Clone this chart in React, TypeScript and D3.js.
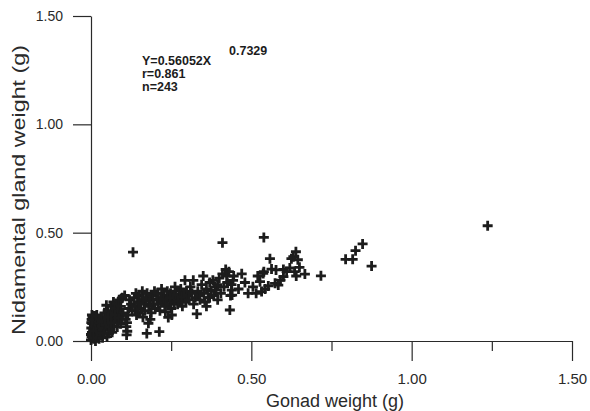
import { useEffect, useRef } from "react";
import * as d3 from "d3";

// axis ticks
const xMajorTicks = [0, 0.5, 1.0, 1.5];
const xMinorTicks = [0.25, 0.75, 1.25];
const yTicks = [0, 0.5, 1.0, 1.5];

// regression annotation
const equationBase = "Y=0.56052X";
const equationExponent = "0.7329";
const statLines = ["r=0.861", "n=243"];

// [gonad weight (g), nidamental gland weight (g)]
const samples: [number, number][] = [
  // x < 0.03
  [0.000, 0.005], [0.002, 0.02], [0.003, 0.04], [0.001, 0.06], [0.004, 0.08], [0.002, 0.10],
  [0.005, 0.11], [0.006, 0.03], [0.008, 0.01], [0.007, 0.05], [0.009, 0.07], [0.010, 0.09],
  [0.011, 0.02], [0.012, 0.04], [0.013, 0.06], [0.014, 0.00], [0.015, 0.08], [0.016, 0.03],
  [0.017, 0.10], [0.018, 0.05], [0.019, 0.02], [0.020, 0.07], [0.021, 0.04], [0.022, 0.09],
  [0.003, 0.12], [0.000, 0.03], [0.001, 0.085], [0.009, 0.115], [0.005, 0.015], [0.012, 0.105],
  [0.018, 0.12], [0.024, 0.06], [0.025, 0.01], [0.026, 0.085],
  [0.004, 0.095], [0.008, 0.045], [0.015, 0.115], [0.020, 0.015], [0.027, 0.035], [0.028, 0.10],
  // 0.03 - 0.12
  [0.030, 0.03], [0.032, 0.07], [0.035, 0.11], [0.037, 0.05], [0.040, 0.09], [0.042, 0.13],
  [0.045, 0.06], [0.047, 0.10], [0.050, 0.02], [0.052, 0.14], [0.055, 0.08], [0.058, 0.12],
  [0.060, 0.05], [0.062, 0.16], [0.065, 0.10], [0.068, 0.13], [0.070, 0.18], [0.072, 0.07],
  [0.075, 0.15], [0.078, 0.11], [0.080, 0.17], [0.083, 0.09], [0.085, 0.14], [0.088, 0.19],
  [0.090, 0.12], [0.093, 0.16], [0.095, 0.10], [0.098, 0.20], [0.100, 0.13], [0.036, 0.015],
  [0.056, 0.035], [0.066, 0.04], [0.048, 0.165],
  [0.033, 0.09], [0.040, 0.035], [0.044, 0.075], [0.053, 0.11], [0.057, 0.065], [0.063, 0.085],
  [0.074, 0.12], [0.082, 0.065], [0.087, 0.105], [0.092, 0.08],
  [0.111, 0.028], [0.113, 0.045], [0.110, 0.066], [0.112, 0.085], [0.108, 0.10], [0.096, 0.197],
  [0.105, 0.21], [0.120, 0.19], [0.118, 0.15], [0.115, 0.12],
  // 0.12 - 0.2
  [0.125, 0.17], [0.128, 0.14], [0.131, 0.41], [0.135, 0.20], [0.138, 0.16], [0.140, 0.22],
  [0.145, 0.18], [0.148, 0.13], [0.150, 0.21], [0.155, 0.15], [0.158, 0.19], [0.160, 0.23],
  [0.165, 0.17], [0.168, 0.14], [0.170, 0.20], [0.174, 0.035], [0.179, 0.082], [0.175, 0.22],
  [0.180, 0.16], [0.185, 0.19], [0.188, 0.13], [0.190, 0.21], [0.195, 0.17], [0.198, 0.23],
  [0.213, 0.043], [0.200, 0.15], [0.142, 0.12], [0.162, 0.11], [0.185, 0.10],
  [0.150, 0.175], [0.172, 0.185], [0.192, 0.195],
  // 0.2 - 0.3
  [0.205, 0.19], [0.208, 0.22], [0.210, 0.17], [0.215, 0.14], [0.218, 0.20], [0.220, 0.24],
  [0.225, 0.18], [0.228, 0.21], [0.230, 0.16], [0.235, 0.19], [0.238, 0.23], [0.241, 0.109],
  [0.240, 0.20], [0.245, 0.17], [0.248, 0.22], [0.250, 0.15], [0.255, 0.19], [0.258, 0.21],
  [0.260, 0.18], [0.265, 0.23], [0.268, 0.20], [0.270, 0.17], [0.275, 0.21], [0.278, 0.19],
  [0.280, 0.24], [0.285, 0.16], [0.288, 0.22], [0.290, 0.20], [0.293, 0.28], [0.295, 0.18],
  [0.298, 0.23], [0.262, 0.25], [0.232, 0.135], [0.252, 0.12],
  [0.226, 0.195], [0.246, 0.20], [0.272, 0.185], [0.282, 0.205],
  // 0.3 - 0.45
  [0.300, 0.21], [0.305, 0.19], [0.310, 0.25], [0.315, 0.22], [0.319, 0.28], [0.320, 0.17],
  [0.325, 0.20], [0.330, 0.125], [0.333, 0.23], [0.338, 0.21], [0.340, 0.19], [0.345, 0.26],
  [0.350, 0.30], [0.352, 0.22], [0.355, 0.18], [0.360, 0.24], [0.365, 0.20], [0.370, 0.27],
  [0.375, 0.23], [0.380, 0.28], [0.383, 0.21], [0.387, 0.25], [0.390, 0.235], [0.395, 0.26],
  [0.400, 0.29], [0.405, 0.22], [0.410, 0.454], [0.410, 0.31], [0.415, 0.25], [0.420, 0.33],
  [0.423, 0.30], [0.425, 0.27], [0.430, 0.32], [0.433, 0.143], [0.435, 0.21], [0.438, 0.26],
  [0.439, 0.235], [0.440, 0.212], [0.443, 0.28], [0.445, 0.30], [0.370, 0.20], [0.360, 0.16],
  [0.395, 0.19],
  // 0.45 - 0.72
  [0.460, 0.24], [0.470, 0.31], [0.480, 0.27], [0.490, 0.22],
  [0.539, 0.478], [0.558, 0.38], [0.631, 0.389], [0.639, 0.412], [0.625, 0.38], [0.645, 0.375],
  [0.539, 0.32], [0.563, 0.332], [0.577, 0.328], [0.620, 0.337], [0.635, 0.32], [0.667, 0.309],
  [0.717, 0.301], [0.532, 0.228], [0.543, 0.24], [0.553, 0.254], [0.574, 0.266], [0.584, 0.258],
  [0.591, 0.281], [0.600, 0.297], [0.610, 0.32], [0.527, 0.274], [0.537, 0.312], [0.515, 0.22],
  [0.520, 0.30], [0.505, 0.25], [0.600, 0.33], [0.650, 0.34], [0.640, 0.30],
  // large animals
  [0.794, 0.377], [0.816, 0.377], [0.825, 0.417], [0.847, 0.448], [0.875, 0.346], [1.237, 0.532],
];

export default function App() {
  const svgRef = useRef<SVGSVGElement>(null);

  useEffect(() => {
    const width = 590;
    const height = 411;
    const ink = "#1c1c1c";
    const font = "'Liberation Sans', Arial, sans-serif";

    const svg = d3.select(svgRef.current);
    svg.selectAll("*").remove();
    svg.attr("width", width).attr("height", height);

    svg.append("rect").attr("width", width).attr("height", height).attr("fill", "white");

    const x = d3.scaleLinear().domain([0, 1.5]).range([91, 572]);
    const y = d3.scaleLinear().domain([0, 1.5]).range([341, 16]);

    // x axis: major ticks with labels, minor ticks without
    const xAxis = svg.append("g")
      .attr("transform", `translate(0,${y(0)})`)
      .call(d3.axisBottom(x).tickValues(xMajorTicks).tickSize(20).tickSizeOuter(0)
        .tickPadding(12).tickFormat(d3.format(".2f")));
    xAxis.append("g")
      .call(d3.axisBottom(x).tickValues(xMinorTicks).tickSize(10).tickFormat(() => ""))
      .select(".domain").remove();

    const yAxis = svg.append("g")
      .attr("transform", `translate(${x(0)},0)`)
      .call(d3.axisLeft(y).tickValues(yTicks).tickSize(18).tickSizeOuter(0)
        .tickPadding(10).tickFormat(d3.format(".2f")));

    [xAxis, yAxis].forEach(g => {
      g.selectAll("path, line").attr("stroke", "#2a2a2a").attr("stroke-width", 1.2);
      g.selectAll("text").attr("fill", "#2a2a2a").attr("font-family", font);
    });
    xAxis.selectAll("text").attr("font-size", 15);
    yAxis.selectAll("text").attr("font-size", 14);

    // axis titles
    svg.append("text")
      .attr("x", 335)
      .attr("y", 407)
      .attr("text-anchor", "middle")
      .attr("font-family", font)
      .attr("font-size", 18)
      .attr("fill", "#2a2a2a")
      .text("Gonad weight (g)");

    svg.append("text")
      .attr("transform", "translate(25,190) rotate(-90)")
      .attr("text-anchor", "middle")
      .attr("font-family", font)
      .attr("font-size", 18)
      .attr("textLength", 290)
      .attr("lengthAdjust", "spacingAndGlyphs")
      .attr("fill", "#2a2a2a")
      .text("Nidamental gland weight (g)");

    // regression annotation
    const note = svg.append("g")
      .attr("font-family", font)
      .attr("font-size", 12.5)
      .attr("font-weight", "bold")
      .attr("fill", ink);
    note.append("text").attr("x", 142).attr("y", 65).text(equationBase);
    note.append("text").attr("x", 229).attr("y", 55).text(equationExponent);
    statLines.forEach((line, i) => {
      note.append("text").attr("x", 142).attr("y", 78 + i * 12.5).text(line);
    });

    // plus markers
    svg.append("g")
      .selectAll("path")
      .data(samples)
      .join("path")
      .attr("transform", d => `translate(${x(d[0])},${y(d[1])})`)
      .attr("d", "M-5,0H5M0,-5V5")
      .attr("fill", "none")
      .attr("stroke", ink)
      .attr("stroke-width", 2.8);
  }, []);

  return (
    <div style={{ position: "absolute", left: 0, top: 0 }}>
      <svg ref={svgRef}></svg>
    </div>
  );
}
